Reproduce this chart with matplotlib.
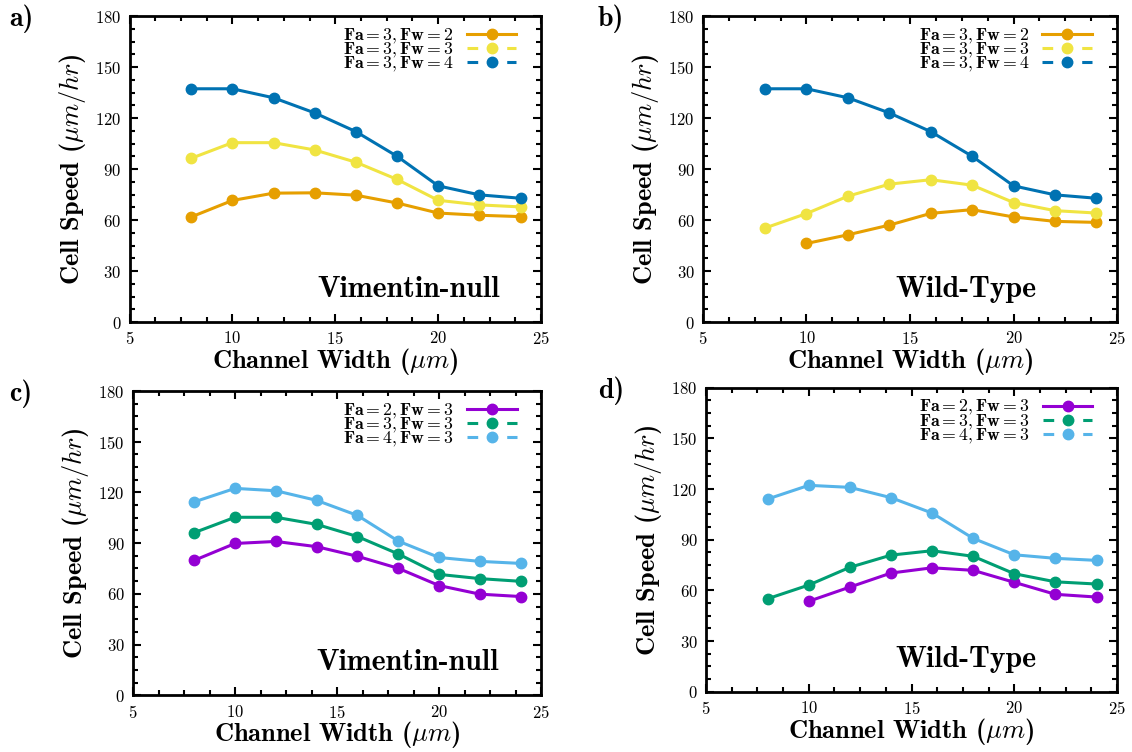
import matplotlib
matplotlib.use("Agg")
import matplotlib.pyplot as plt
from matplotlib.lines import Line2D
from matplotlib.ticker import MultipleLocator

plt.rcParams['font.family'] = ['cmr10', 'DejaVu Sans']
plt.rcParams['mathtext.fontset'] = 'cm'
plt.rcParams['axes.formatter.use_mathtext'] = True

widths = [8, 10, 12, 14, 16, 18, 20, 22, 24]
widths_wt = [10, 12, 14, 16, 18, 20, 22, 24]

# panel a: Vimentin-null, Fa = 3
a_fw2 = [61.8, 71.5, 75.8, 76.0, 74.6, 70.0, 64.1, 62.8, 62.0]
a_fw3 = [96.3, 105.5, 105.5, 101.2, 94.0, 83.9, 71.6, 68.9, 67.7]
a_fw4 = [137.2, 137.2, 131.9, 123.0, 112.0, 97.5, 80.1, 74.8, 72.8]

# panel b: Wild-Type, Fa = 3
b_fw2 = [46.2, 51.3, 57.0, 63.9, 66.1, 61.8, 59.2, 58.6]
b_fw3 = [55.3, 63.8, 74.0, 81.1, 83.7, 80.5, 70.3, 65.5, 64.1]
b_fw4 = [137.2, 137.2, 131.9, 123.0, 112.0, 97.5, 80.1, 74.8, 72.8]

# panel c: Vimentin-null, Fw = 3
c_fa2 = [79.8, 89.8, 91.0, 87.9, 82.2, 75.1, 64.9, 59.8, 58.4]
c_fa3 = [96.2, 105.3, 105.3, 101.1, 93.9, 83.6, 71.5, 69.0, 67.4]
c_fa4 = [114.4, 122.4, 121.0, 115.3, 106.4, 91.2, 81.5, 79.2, 78.0]

# panel d: Wild-Type, Fw = 3
d_fa2 = [53.6, 62.0, 70.3, 73.4, 71.9, 64.8, 57.7, 56.1]
d_fa3 = [55.1, 63.2, 73.7, 80.9, 83.5, 80.2, 69.9, 65.1, 63.8]
d_fa4 = [114.1, 122.2, 121.0, 114.9, 105.8, 90.8, 81.1, 79.0, 77.8]

orange, yellow, blue = '#E69F00', '#F0E442', '#0072B2'
purple, green, sky = '#9400D3', '#009E73', '#56B4E9'

top_labels = [r'$\mathbf{Fa} = 3, \mathbf{Fw} = 2$',
              r'$\mathbf{Fa} = 3, \mathbf{Fw} = 3$',
              r'$\mathbf{Fa} = 3, \mathbf{Fw} = 4$']
bot_labels = [r'$\mathbf{Fa} = 2, \mathbf{Fw} = 3$',
              r'$\mathbf{Fa} = 3, \mathbf{Fw} = 3$',
              r'$\mathbf{Fa} = 4, \mathbf{Fw} = 3$']

fig = plt.figure(figsize=(11.32, 7.52), dpi=100)
positions = {
    'a': [0.1144, 0.5718, 0.3636, 0.4069],
    'b': [0.6210, 0.5718, 0.3658, 0.4069],
    'c': [0.1175, 0.0755, 0.3605, 0.4045],
    'd': [0.6237, 0.0800, 0.3631, 0.4045],
}
tag_pos = {'a': (0.677, 0.105), 'b': (0.635, 0.105),
           'c': (0.674, 0.108), 'd': (0.633, 0.105)}
letter_x = {'a': 0.008, 'b': 0.528, 'c': 0.008, 'd': 0.528}

panels = [
    ('a', [(widths, a_fw2, orange), (widths, a_fw3, yellow), (widths, a_fw4, blue)], top_labels, 'Vimentin-null'),
    ('b', [(widths_wt, b_fw2, orange), (widths, b_fw3, yellow), (widths, b_fw4, blue)], top_labels, 'Wild-Type'),
    ('c', [(widths, c_fa2, purple), (widths, c_fa3, green), (widths, c_fa4, sky)], bot_labels, 'Vimentin-null'),
    ('d', [(widths_wt, d_fa2, purple), (widths, d_fa3, green), (widths, d_fa4, sky)], bot_labels, 'Wild-Type'),
]

for name, series, labels, tag in panels:
    ax = fig.add_axes(positions[name])
    for x, y, c in series:
        ax.plot(x, y, color=c, lw=2.2, marker='o', ms=7.5, zorder=3)
    handles = []
    for i, (x, y, c) in enumerate(series):
        ls = '-' if i == 0 else (0, (3.5, 3.0))
        handles.append(Line2D([], [], color=c, lw=2.2, ls=ls, marker='o', ms=7.5))
    ax.legend(handles, labels, loc='upper right', bbox_to_anchor=(0.94, 0.965),
              frameon=False, markerfirst=False, handlelength=2.8,
              labelspacing=-0.27, handletextpad=0.7, borderaxespad=0.0,
              borderpad=0.0, fontsize=12.8)
    ax.set_xlim(5, 25)
    ax.set_ylim(0, 180)
    ax.xaxis.set_major_locator(MultipleLocator(5))
    ax.xaxis.set_minor_locator(MultipleLocator(1.25))
    ax.yaxis.set_major_locator(MultipleLocator(30))
    ax.yaxis.set_minor_locator(MultipleLocator(7.5))
    ax.tick_params(which='both', direction='in', top=True, right=True,
                   labelsize=12, width=1.5, pad=6)
    ax.tick_params(which='major', length=6)
    ax.tick_params(which='minor', length=3.5)
    for s in ax.spines.values():
        s.set_linewidth(2)
    ax.set_xlabel(r'Channel Width ($\mu m$)', family='cmb10', fontsize=19, labelpad=-1)
    ax.set_ylabel(r'Cell Speed ($\mu m/hr$)', family='cmb10', fontsize=19, labelpad=5)
    tx, ty = tag_pos[name]
    ax.text(tx, ty, tag, transform=ax.transAxes, ha='center', va='center',
            family='cmb10', fontsize=21.5)
    bb = positions[name]
    fig.text(letter_x[name], bb[1] + bb[3] - 0.004, name + ')', family='cmb10',
             fontsize=20, va='center', ha='left')

fig.savefig('out.png', dpi=100)
